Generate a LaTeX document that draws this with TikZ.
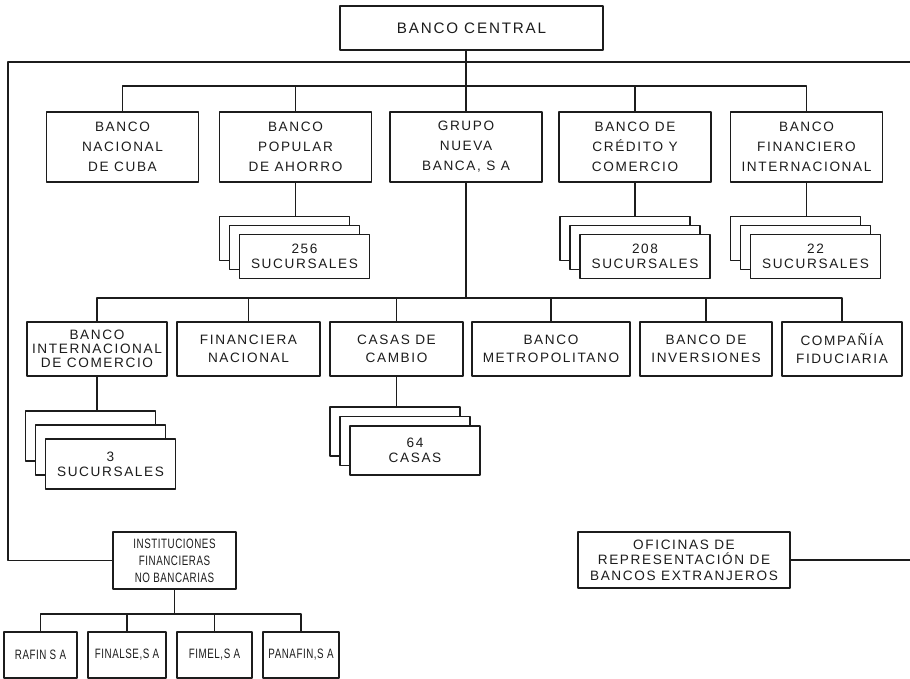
\documentclass[tikz,border=0pt]{standalone}
\usepackage{fontspec}
\newfontfamily\orgfont[LetterSpace=12]{Liberation Sans}
\newfontfamily\orgnarrow[LetterSpace=4,FakeStretch=0.72]{Liberation Sans}
\usepackage{tikz}
\usetikzlibrary{positioning}
\definecolor{orgInk}{HTML}{1C1C1C}
\tikzset{
  org diagram/.style={font=\orgfont\fontsize{6.8}{10}\selectfont, text=orgInk,
    x=0.5pt, y=-0.5pt, line cap=round, line join=round},
  org box/.style={draw=orgInk, fill=white, line width=0.8pt,
    align=center, inner sep=0pt},
  org stack/.style={org box, minimum width=65pt,
    font=\orgfont\fontsize{6.8}{7.5}\selectfont},
  org tight/.style={font=\orgfont\fontsize{6.8}{#1}\selectfont},
  org narrow/.style={font=\orgnarrow\fontsize{6.8}{8.5}\selectfont},
  org line/.style={draw=orgInk, line width=0.8pt}
}

\begin{document}
\begin{tikzpicture}[org diagram]
\useasboundingbox (0,0) rectangle (910,679);
\node[org box,minimum width=131.5pt,minimum height=22pt,font=\orgfont\fontsize{7.6}{10}\selectfont] (central) at (471.5,28) {BANCO CENTRAL};
% first level
\foreach \n/\x/\t in {nac/122.5/{BANCO\\NACIONAL\\DE CUBA},pop/295.5/{BANCO\\POPULAR\\DE AHORRO},grupo/466/{GRUPO\\NUEVA\\BANCA, S A},cred/635/{BANCO DE\\CRÉDITO Y\\COMERCIO},fin/806.5/{BANCO\\FINANCIERO\\INTERNACIONAL}}{
  \node[org box,minimum width=76pt,minimum height=35pt] (\n) at (\x,147) {\t};
}
% second level under the group
\node[org box,org tight=7,minimum width=70pt,minimum height=27pt] (bic) at (97,349) {BANCO\\INTERNACIONAL\\DE COMERCIO};
\foreach \n/\x/\w/\t in {finnac/248.5/71.5/{FINANCIERA\\NACIONAL},casas/396.5/66.5/{CASAS DE\\CAMBIO},metro/551/79/{BANCO\\METROPOLITANO},inver/706/66/{BANCO DE\\INVERSIONES},fidu/842/60/{COMPAÑÍA\\FIDUCIARIA}}{
  \node[org box,org tight=9,minimum width=\w pt,minimum height=27pt] (\n) at (\x,349) {\t};
}
% branch stacks
\foreach \n/\x/\y/\h/\dx/\dy/\t in {pops/304.5/256.5/22/10/9/{256\\SUCURSALES},creds/645/256.5/22/10/9/{208\\SUCURSALES},fins/815.5/256.5/22/10/9/{22\\SUCURSALES},bics/110.5/464/25/10/14/{3\\SUCURSALES},casass/415/450.5/24.5/10/9.5/{64\\CASAS}}{
  \node[org stack,minimum height=\h pt] (\n3) at (\x-2*\dx,\y-2*\dy) {};
  \node[org stack,minimum height=\h pt] (\n2) at (\x-\dx,\y-\dy) {};
  \node[org stack,minimum height=\h pt] (\n1) at (\x,\y) {\t};
}
\node[org box,org narrow,minimum width=61.5pt,minimum height=28.5pt] (inst) at (174.5,560.5) {INSTITUCIONES\\FINANCIERAS\\NO BANCARIAS};
\node[org box,org tight=7.8,minimum width=106pt,minimum height=28pt] (ofic) at (684,560) {OFICINAS DE\\REPRESENTACIÓN DE\\BANCOS EXTRANJEROS};
\foreach \n/\x/\w/\t in {rafin/40.5/36.5/{RAFIN S A},finalse/127/39/{FINALSE,S A},fimel/214.5/37.5/{FIMEL,S A},panafin/301/38/{PANAFIN,S A}}{
  \node[org box,org narrow,minimum width=\w pt,minimum height=23pt] (\n) at (\x,655) {\t};
}
% connectors
\coordinate (frame) at (8,62);
\coordinate (frameR) at (910,62);
\coordinate (bus1) at (0,86);
\coordinate (bus2) at (0,298);
\coordinate (bus3) at (0,614);
\draw[org line] (inst.west) -| (frame) -- (frameR);
\draw[org line] (ofic.east) -- (ofic.east -| frameR);
\draw[org line] (central.south -| grupo.north) -- (grupo.north);
\draw[org line] (nac.north) |- (bus1 -| fin.north) -- (fin.north);
\foreach \n in {pop,cred}{
  \draw[org line] (\n.north) -- (\n.north |- bus1);
}
\draw[org line] (grupo.south) -- (grupo.south |- bus2);
\draw[org line] (bic.north) |- (bus2 -| fidu.north) -- (fidu.north);
\foreach \n in {finnac,casas,metro,inver}{
  \draw[org line] (\n.north) -- (\n.north |- bus2);
}
\foreach \n in {pop,cred,fin,bic,casas}{
  \draw[org line] (\n.south) -- (\n.south |- \n s3.north);
}
\draw[org line] (inst.south) -- (inst.south |- bus3);
\draw[org line] (rafin.north) |- (bus3 -| panafin.north) -- (panafin.north);
\foreach \n in {finalse,fimel}{
  \draw[org line] (\n.north) -- (\n.north |- bus3);
}
\end{tikzpicture}
\end{document}
